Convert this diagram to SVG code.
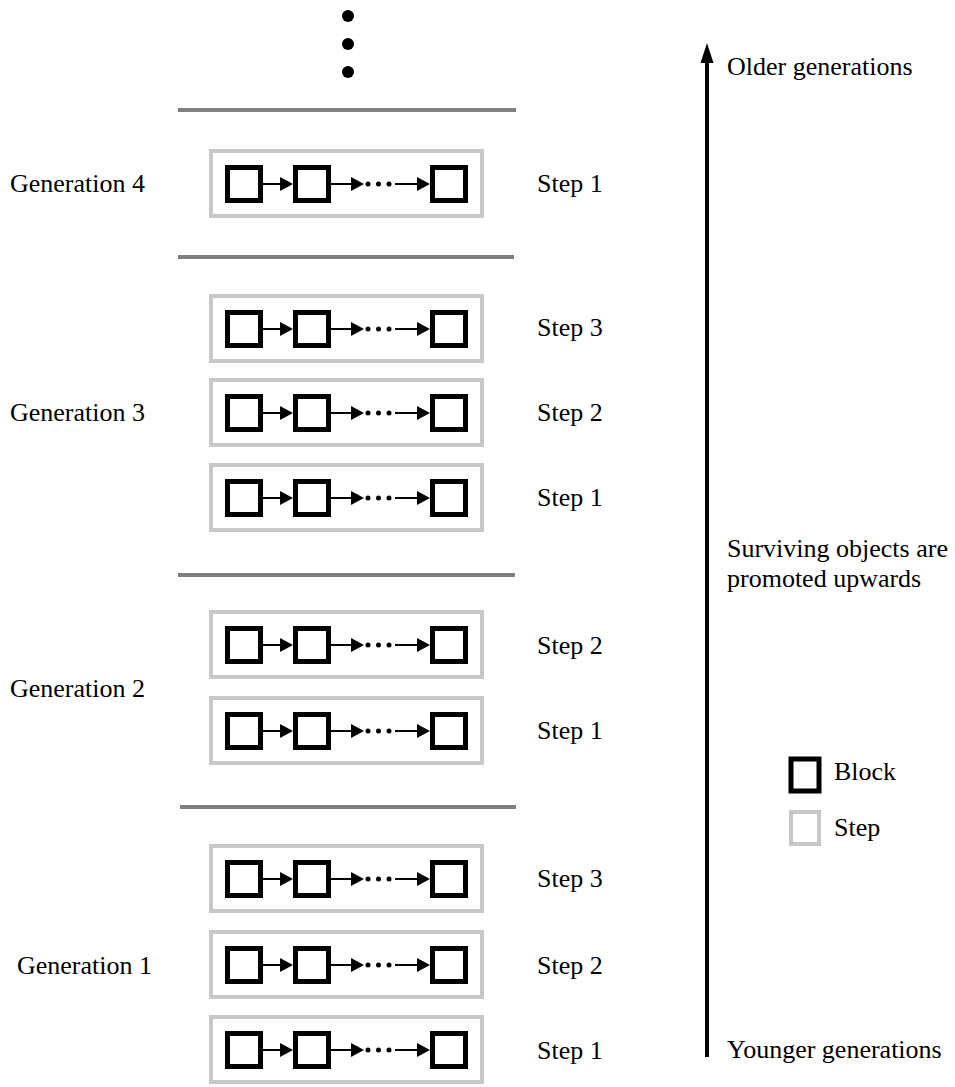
<svg xmlns="http://www.w3.org/2000/svg" xmlns:xlink="http://www.w3.org/1999/xlink" width="955" height="1087" viewBox="0 0 955 1087">
<style>
text{font-family:"Liberation Serif","Times New Roman",serif;font-size:26px;fill:#000}
.step{fill:#fff;stroke:#c8c8c8;stroke-width:4}
.blk{fill:#fff;stroke:#000;stroke-width:5}
.sep{stroke:#808080;stroke-width:4}
.ln{stroke:#000;stroke-width:2}
</style>
<defs>
<g id="row">
<rect class="step" x="211" y="-33" width="271" height="65"/>
<rect class="blk" x="227.5" y="-16.5" width="33" height="33"/>
<rect class="blk" x="295.5" y="-16.5" width="33" height="33"/>
<rect class="blk" x="432.5" y="-16.5" width="33" height="33"/>
<line class="ln" x1="263" y1="0" x2="282" y2="0"/>
<polygon points="280,-7 293,0 280,7"/>
<line class="ln" x1="331" y1="0" x2="353" y2="0"/>
<polygon points="351,-7 364,0 351,7"/>
<circle cx="368" cy="0" r="2.5"/>
<circle cx="378.5" cy="0" r="2.5"/>
<circle cx="389" cy="0" r="2.5"/>
<line class="ln" x1="395" y1="0" x2="419" y2="0"/>
<polygon points="417,-7 430,0 417,7"/>
</g>
</defs>
<g id="ellipsis">
<circle cx="348" cy="16" r="6"/>
<circle cx="348" cy="44" r="6"/>
<circle cx="348" cy="72" r="6"/>
</g>
<g id="separators">
<line class="sep" x1="178" y1="110" x2="516" y2="110"/>
<line class="sep" x1="178" y1="257" x2="514" y2="257"/>
<line class="sep" x1="178" y1="575" x2="515" y2="575"/>
<line class="sep" x1="180" y1="807" x2="516" y2="807"/>
</g>
<g id="gen4"><text x="10" y="192">Generation 4</text></g>
<g id="gen4-step1"><use xlink:href="#row" transform="translate(0,184)"/><text x="537" y="192">Step 1</text></g>
<g id="gen3"><text x="10" y="421">Generation 3</text></g>
<g id="gen3-step3"><use xlink:href="#row" transform="translate(0,329)"/><text x="537" y="336">Step 3</text></g>
<g id="gen3-step2"><use xlink:href="#row" transform="translate(0,413)"/><text x="537" y="421">Step 2</text></g>
<g id="gen3-step1"><use xlink:href="#row" transform="translate(0,498)"/><text x="537" y="506">Step 1</text></g>
<g id="gen2"><text x="10" y="697">Generation 2</text></g>
<g id="gen2-step2"><use xlink:href="#row" transform="translate(0,645)"/><text x="537" y="654">Step 2</text></g>
<g id="gen2-step1"><use xlink:href="#row" transform="translate(0,731)"/><text x="537" y="739">Step 1</text></g>
<g id="gen1"><text x="17" y="974">Generation 1</text></g>
<g id="gen1-step3"><use xlink:href="#row" transform="translate(0,879)"/><text x="537" y="887">Step 3</text></g>
<g id="gen1-step2"><use xlink:href="#row" transform="translate(0,965)"/><text x="537" y="974">Step 2</text></g>
<g id="gen1-step1"><use xlink:href="#row" transform="translate(0,1050)"/><text x="537" y="1059">Step 1</text></g>
<g id="connectors">
<line x1="707" y1="1057" x2="707" y2="60" stroke="#000" stroke-width="4"/>
<polygon points="700.5,63 707,43 713.5,63"/>
</g>
<g id="labels">
<text x="727" y="75">Older generations</text>
<text x="727" y="557">Surviving objects are</text>
<text x="727" y="587">promoted upwards</text>
<text x="727" y="1058">Younger generations</text>
</g>
<g id="legend">
<rect class="blk" x="791" y="759" width="28" height="32" stroke-width="4"/>
<text x="834" y="780">Block</text>
<rect class="step" x="791" y="812" width="28" height="32"/>
<text x="834" y="836">Step</text>
</g>
</svg>
